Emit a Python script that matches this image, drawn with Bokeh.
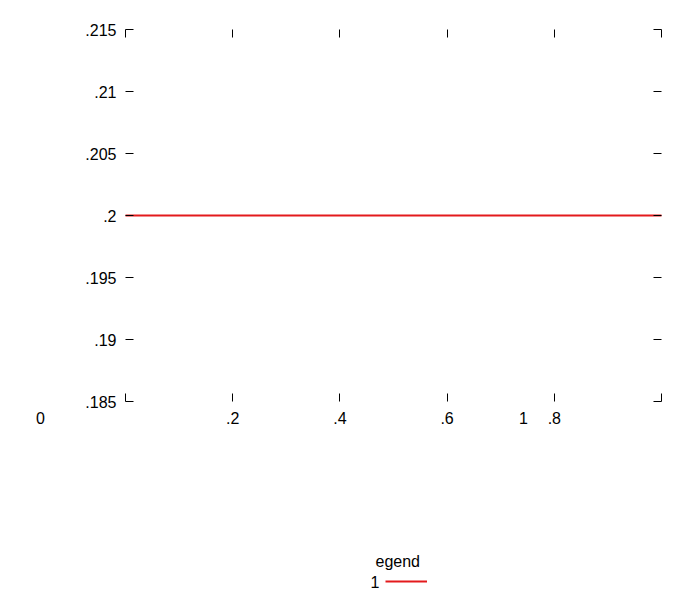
from bokeh.plotting import figure
from bokeh.models import FixedTicker, LinearAxis, Legend, LegendItem, Range1d
from bokeh.embed import file_html
from bokeh.resources import INLINE

# ---- data ----
series_x = [0.0, 1.0]
series_y = [0.2, 0.2]
series_name = "1"
legend_title = "egend"

x_ticks = [0.0, 0.2, 0.4, 0.6, 0.8, 1.0]
x_tick_labels = ["", ".2", ".4", ".6", ".8", ""]
y_ticks = [0.185, 0.19, 0.195, 0.2, 0.205, 0.21, 0.215]
y_tick_labels = [".185", ".19", ".195", ".2", ".205", ".21", ".215"]
# the original draws its "0" and "1" x labels away from their ticks (pixel columns)
stray_x_labels = ["0", "1"]
stray_x_px = [40, 523]

# ---- geometry (pixels) ----
W, H = 700, 600
F_LEFT, F_RIGHT, F_TOP, F_BOTTOM = 125, 661, 29, 401
X0, X1 = 0.0, 1.0
Y0, Y1 = 0.185, 0.215
FONT = "Liberation Sans"
FS = "16px"
LINE_COLOR = "#e31a1c"
X_LABEL_STANDOFF = 10

kx = (X1 - X0) / (F_RIGHT - F_LEFT)
ky = (Y1 - Y0) / (F_BOTTOM - F_TOP)
def px_x(px):
    return X0 + (px - F_LEFT) * kx
def px_y(py):
    return Y0 + (F_BOTTOM - py) * ky

# whole canvas is the frame; the plot box is drawn by axes fixed at the data edges
p = figure(width=W, height=H, output_backend="svg", toolbar_location=None,
           x_range=Range1d(px_x(0), px_x(W)), y_range=Range1d(px_y(H), px_y(0)),
           x_axis_location=None, y_axis_location=None, min_border=0)
p.outline_line_color = None
p.grid.visible = False

def make_axis(ticks, fixed, labels=None):
    ax = LinearAxis(fixed_location=fixed)
    ax.ticker = FixedTicker(ticks=ticks)
    ax.axis_line_color = None
    ax.major_tick_in = 8
    ax.major_tick_out = 0
    ax.minor_tick_in = 0
    ax.minor_tick_out = 0
    ax.major_tick_line_color = "black"
    ax.major_tick_line_width = 1
    ax.major_label_text_font = FONT
    ax.major_label_text_font_size = FS
    if labels is None:
        ax.major_label_text_color = None
    else:
        ax.major_label_overrides = dict(zip(ticks, labels))
        ax.major_label_text_color = "black"
    return ax

bottom = make_axis(x_ticks, Y0, x_tick_labels)
bottom.major_label_standoff = X_LABEL_STANDOFF
p.add_layout(bottom, "below")
p.add_layout(make_axis(x_ticks, Y1), "above")
left = make_axis(y_ticks, X0, y_tick_labels)
left.major_label_standoff = 9
p.add_layout(left, "left")
p.add_layout(make_axis(y_ticks, X1), "right")

r = p.line(series_x, series_y, line_color=LINE_COLOR, line_width=2)

p.text(x=[px_x(v) for v in stray_x_px],
       y=[px_y(F_BOTTOM + X_LABEL_STANDOFF)] * len(stray_x_px), text=stray_x_labels,
       text_font={"value": FONT}, text_font_size=FS, text_color="black",
       text_align="center", text_baseline="top")

# legend: title above, label to the left of the key line
p.text(x=[px_x(375)], y=[px_y(561)], text=[legend_title],
       text_font={"value": FONT}, text_font_size=FS, text_color="black",
       text_align="left", text_baseline="middle")
p.text(x=[px_x(370)], y=[px_y(581)], text=[series_name],
       text_font={"value": FONT}, text_font_size=FS, text_color="black",
       text_align="left", text_baseline="middle")
legend = Legend(items=[LegendItem(label="", renderers=[r])], location=(385, H - 581 - 8),
                padding=0, margin=0, spacing=0, border_line_color=None,
                background_fill_alpha=0, glyph_width=42, glyph_height=16,
                label_standoff=0, label_width=0, label_text_color=None)
p.add_layout(legend, "center")

open("out.html", "w").write(file_html(p, INLINE))
